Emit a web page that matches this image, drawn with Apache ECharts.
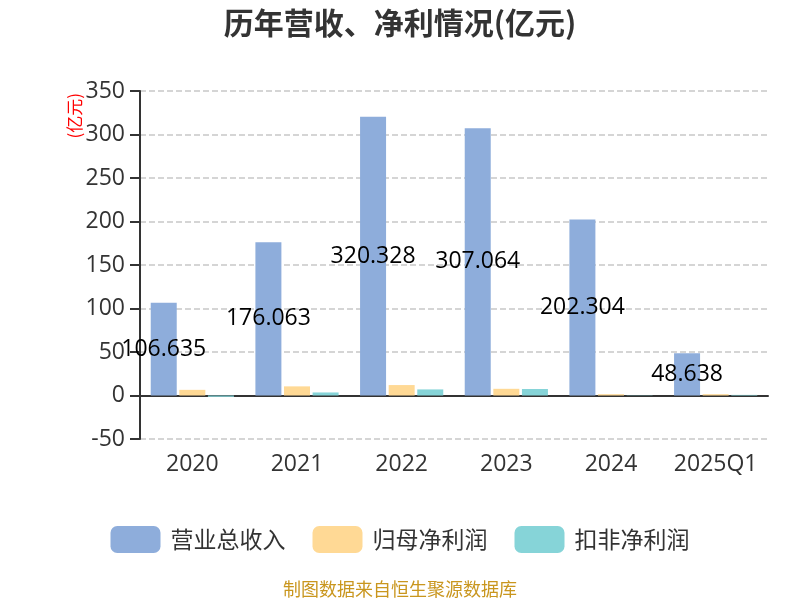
<!DOCTYPE html>
<html><head><meta charset="utf-8">
<script src="https://cdn.jsdelivr.net/npm/echarts@6/dist/echarts.min.js"></script>
<style>html,body{margin:0;padding:0;background:#fff}#c{width:800px;height:600px}</style>
</head><body><div id="c"></div>
<script>
const categories = ['2020','2021','2022','2023','2024','2025Q1'];
const revenue = [106.635, 176.063, 320.328, 307.064, 202.304, 48.638];
const netProfit = [6.5, 10.5, 12.0, 7.7, 1.5, 1.5];
const deductedProfit = [-1.5, 3.5, 7.0, 7.5, 0.3, 0.7];
const seriesNames = ['营业总收入','归母净利润','扣非净利润'];
const yTicks = {min: -50, max: 350, interval: 50};

const chart = echarts.init(document.getElementById('c'));
const cjk = '"Noto Sans CJK SC","Noto Sans",sans-serif';
const num = '"Open Sans","Noto Sans CJK SC",sans-serif';
chart.setOption({
  textStyle: {fontFamily: num},
  title: {text: '历年营收、净利情况(亿元)', left: 'center', top: 3,
    textStyle: {fontSize: 30, fontWeight: 'bold', color: '#333', fontFamily: cjk}},
  legend: {top: 521, left: 'center', itemWidth: 50, itemHeight: 27, itemGap: 27,
    textStyle: {fontSize: 23, color: '#333', fontFamily: cjk, padding: [0, 0, 0, 5]},
    data: seriesNames},
  grid: {left: 140, right: 32, top: 91, bottom: 161},
  xAxis: {type: 'category', data: categories,
    axisLine: {onZero: true, lineStyle: {color: '#333', width: 2}},
    axisTick: {length: 10, lineStyle: {color: '#333', width: 2}},
    axisLabel: {interval: 0, margin: 14, fontSize: 23, color: '#333', fontFamily: num}},
  yAxis: {type: 'value', min: yTicks.min, max: yTicks.max, interval: yTicks.interval,
    name: '(亿元)', nameLocation: 'end', nameRotate: 90, nameGap: -2, nameMoveOverlap: false,
    nameTextStyle: {color: 'red', fontSize: 17, fontFamily: cjk, align: 'right', verticalAlign: 'bottom', padding: [0, 0, 57, 0]},
    axisLine: {show: true, lineStyle: {color: '#333', width: 2}},
    axisTick: {show: true, length: 10, lineStyle: {color: '#333', width: 2}},
    axisLabel: {fontSize: 23, color: '#333', margin: 15, fontFamily: num},
    splitLine: {lineStyle: {type: 'dashed', color: '#c8c8c8', width: 1.5}}},
  series: [
    {name: seriesNames[0], type: 'bar', data: revenue, barWidth: 26, barGap: '10%',
      itemStyle: {color: '#8eaddb'},
      label: {show: true, position: 'inside', color: '#000', fontSize: 23, fontFamily: num}},
    {name: seriesNames[1], type: 'bar', data: netProfit, barWidth: 26, barGap: '10%',
      itemStyle: {color: '#ffd995'}},
    {name: seriesNames[2], type: 'bar', data: deductedProfit, barWidth: 26, barGap: '10%',
      itemStyle: {color: '#86d4d8'}}
  ],
  graphic: [{type: 'text', left: 'center', top: 580,
    style: {text: '制图数据来自恒生聚源数据库', fill: '#c9961e', fontSize: 18, fontFamily: cjk}}]
});
</script></body></html>
